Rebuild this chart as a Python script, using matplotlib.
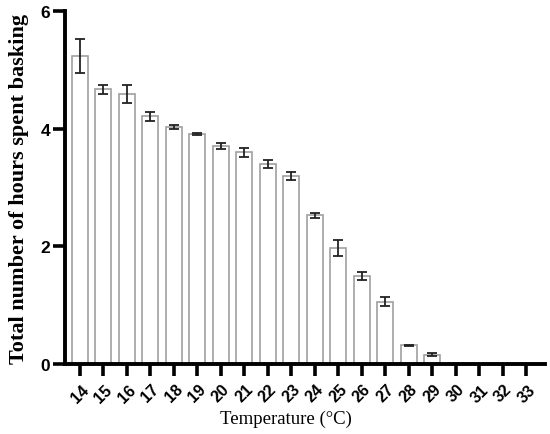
import numpy as np
import matplotlib
matplotlib.use("Agg")
import matplotlib.pyplot as plt

temps = [str(t) for t in range(14, 34)]
hours = [5.24, 4.67, 4.59, 4.21, 4.03, 3.91, 3.71, 3.60, 3.40, 3.20,
         2.53, 1.97, 1.50, 1.06, 0.32, 0.16, 0, 0, 0, 0]
errs = [0.29, 0.08, 0.15, 0.07, 0.04, 0.02, 0.05, 0.08, 0.07, 0.07,
        0.04, 0.13, 0.07, 0.08, 0.01, 0.02, 0, 0, 0, 0]

fig = plt.figure(figsize=(5.5, 4.35), dpi=100)
ax = fig.add_axes([0.118, 0.161, 0.872, 0.811])

x = np.arange(len(temps))
ax.bar(x, hours, width=0.68, color="white", edgecolor="#a0a0a0", linewidth=1.2, zorder=2)
ax.errorbar(x[:16], hours[:16], yerr=errs[:16], fmt="none", ecolor="#222222",
            elinewidth=1.3, capsize=3.5, capthick=1.3, zorder=3)

ax.set_xlim(-0.64, 19.77)
ax.set_ylim(0, 6)
ax.set_yticks([0, 2, 4, 6])
ax.set_xticks(x)
ax.set_xticklabels(temps, rotation=45, ha="center", rotation_mode="default")

for side in ["top", "right"]:
    ax.spines[side].set_visible(False)
for side in ["left", "bottom"]:
    ax.spines[side].set_linewidth(2.8)

ax.tick_params(axis="both", width=2.6, length=8.5)
ax.tick_params(axis="y", labelsize=12.5, pad=2)
ax.tick_params(axis="x", labelsize=11.5, pad=4)
for lab in ax.get_xticklabels() + ax.get_yticklabels():
    lab.set_fontfamily("Liberation Sans")
    lab.set_fontweight("bold")

ax.set_ylabel("Total number of hours spent basking", fontfamily="Liberation Serif",
              fontweight="bold", fontsize=16, labelpad=8)
ax.set_xlabel("Temperature (\u00b0C)", fontfamily="Liberation Serif", fontsize=13.5)
ax.xaxis.set_label_coords(0.46, -0.13)

fig.savefig("out.png", dpi=100)
